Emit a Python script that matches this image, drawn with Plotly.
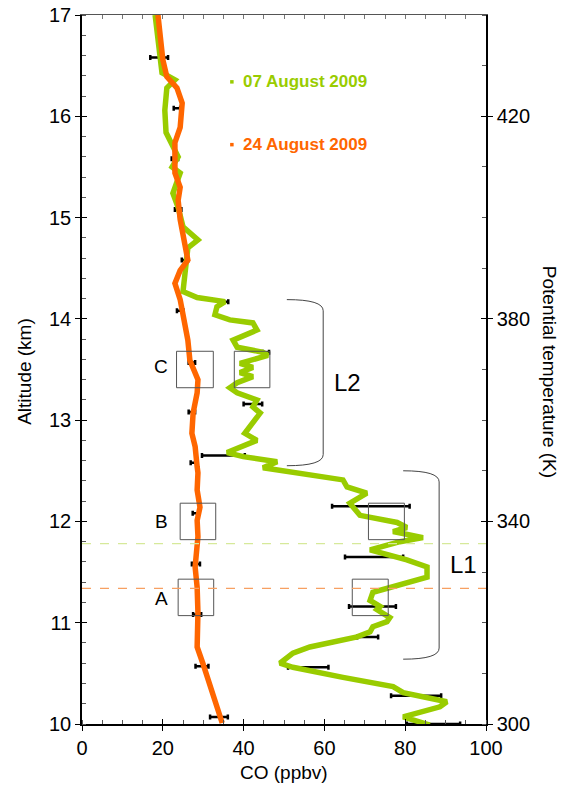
import plotly.graph_objects as go

# CO profiles, 07 August 2009 (green) and 24 August 2009 (orange)
green_alt = [17.0, 16.75, 16.56, 16.43, 16.36, 16.28, 16.06, 15.84, 15.60, 15.50, 15.44, 15.24,
             15.10, 14.91, 14.78, 14.70, 14.45, 14.27, 14.21, 14.17, 14.12, 14.04, 13.99, 13.96,
             13.89, 13.79, 13.72, 13.67, 13.64, 13.56, 13.52, 13.47, 13.43, 13.37, 13.32, 13.27,
             13.20, 13.13, 13.07, 12.87, 12.80, 12.76, 12.68, 12.64, 12.59, 12.53, 12.48, 12.41,
             12.34, 12.28, 12.18, 12.06, 11.99, 11.94, 11.90, 11.84, 11.80, 11.72, 11.62, 11.55,
             11.45, 11.39, 11.30, 11.22, 11.16, 11.13, 11.05, 11.01, 10.96, 10.91, 10.86, 10.76,
             10.70, 10.60, 10.56, 10.46, 10.37, 10.31, 10.22, 10.17, 10.07, 9.99]
green_co = [18.1, 18.8, 19.3, 19.8, 23.0, 21.0, 20.5, 20.8, 23.8, 22.3, 24.3, 22.5,
            23.8, 25.0, 28.7, 26.2, 25.5, 25.0, 28.5, 35.4, 33.4, 32.9, 36.6, 42.3,
            43.3, 37.4, 38.4, 44.8, 46.0, 39.1, 42.3, 39.1, 42.3, 38.4, 36.6, 38.4,
            43.3, 42.3, 44.1, 40.3, 43.3, 40.8, 35.9, 39.9, 48.3, 44.8, 52.2, 64.6,
            65.6, 70.5, 66.3, 68.8, 78.0, 80.4, 77.0, 84.4, 78.7, 71.3, 80.4, 85.4,
            85.4, 80.4, 72.0, 71.3, 73.8, 73.0, 76.2, 75.5, 72.0, 71.3, 68.1, 56.4,
            52.2, 49.0, 52.2, 64.6, 77.0, 79.5, 90.3, 88.6, 79.5, 86.1]

orange_alt = [17.0, 16.82, 16.56, 16.39, 16.28, 16.13, 15.89, 15.74, 15.44, 15.30, 15.17, 14.98,
              14.85, 14.68, 14.58, 14.48, 14.35, 14.19, 13.96, 13.79, 13.59, 13.40, 13.27, 13.07,
              12.87, 12.74, 12.54, 12.48, 12.31, 12.14, 12.01, 11.85, 11.55, 11.35, 11.10, 10.76,
              10.60, 10.37, 10.21, 10.01]
orange_co = [18.8, 19.3, 20.0, 21.0, 23.5, 24.8, 24.3, 23.0, 23.0, 24.3, 23.8, 24.3,
             25.0, 26.0, 26.2, 24.3, 23.0, 24.3, 25.5, 26.2, 26.7, 28.7, 28.5, 27.5,
             27.2, 28.0, 28.5, 28.7, 28.5, 29.2, 28.5, 28.7, 28.0, 28.5, 28.7, 28.5,
             29.9, 31.7, 32.9, 34.7]

# Uncertainty bars
green_err_alt = [14.17, 13.67, 13.16, 12.65, 12.15, 11.65, 11.16, 10.86, 10.56, 10.28, 10.0]
green_err_co = [35.4, 45.5, 42.3, 35.0, 71.5, 72.3, 71.9, 70.7, 56.0, 82.7, 87.0]
green_err_half = [0.8, 0.8, 2.3, 5.3, 9.6, 7.2, 5.8, 2.6, 5.0, 6.2, 6.6]

orange_err_alt = [16.58, 16.08, 15.58, 15.08, 14.58, 14.08, 13.57, 13.08, 12.58, 12.08,
                  11.58, 11.08, 10.57, 10.07]
orange_err_co = [19.1, 23.5, 23.0, 23.8, 25.5, 24.3, 27.2, 27.2, 27.7, 28.2,
                 28.2, 28.5, 29.7, 33.9]
orange_err_half = [2.2, 0.8, 0.8, 0.8, 0.8, 0.8, 0.8, 0.8, 0.8, 0.8,
                   1.0, 1.0, 1.6, 2.2]

# Sampled regions (CO min, CO max, alt min, alt max)
boxes = [(23.4, 32.5, 13.32, 13.68), (37.7, 46.5, 13.32, 13.68),
         (24.3, 33.1, 11.82, 12.18), (70.9, 79.8, 11.82, 12.18),
         (23.8, 32.6, 11.07, 11.43), (66.9, 75.8, 11.07, 11.43)]
box_labels = ["C", "B", "A"]
box_label_alt = [13.53, 12.0, 11.235]

# Tropopause-level markers
tropo_alt_green = 11.78
tropo_alt_orange = 11.34

# Layers (label, CO left end, CO right end, top alt, bottom alt)
layers = [("L2", 50.7, 59.7, 14.19, 12.55), ("L1", 79.5, 88.4, 12.50, 10.64)]

GREEN = "#99cc00"
ORANGE = "#ff6600"
FONT = "Liberation Sans, Arial, sans-serif"

fig = go.Figure()

fig.add_trace(go.Scatter(
    x=green_err_co, y=green_err_alt, mode="markers",
    marker=dict(size=1, color="rgba(0,0,0,0)"),
    error_x=dict(type="data", array=green_err_half, color="black", thickness=2.5, width=2.5),
    hoverinfo="skip"))
fig.add_trace(go.Scatter(
    x=orange_err_co, y=orange_err_alt, mode="markers",
    marker=dict(size=1, color="rgba(0,0,0,0)"),
    error_x=dict(type="data", array=orange_err_half, color="black", thickness=2.5, width=2.5),
    hoverinfo="skip"))

fig.add_trace(go.Scatter(x=green_co, y=green_alt, mode="lines",
                         line=dict(color=GREEN, width=5.5), hoverinfo="skip"))
fig.add_trace(go.Scatter(x=orange_co, y=orange_alt, mode="lines",
                         line=dict(color=ORANGE, width=5.5), hoverinfo="skip"))

# legend entries
legend_text = ["07 August 2009", "24 August 2009"]
legend_col = [GREEN, ORANGE]
legend_alt = [16.34, 15.72]
for t, c, a in zip(legend_text, legend_col, legend_alt):
    fig.add_trace(go.Scatter(x=[37.1], y=[a], mode="markers",
                             marker=dict(symbol="square", size=3.5, color=c),
                             hoverinfo="skip"))
    fig.add_annotation(x=39.4, y=a, xref="x", yref="y", text="<b>%s</b>" % t,
                       showarrow=False, xanchor="left", yanchor="middle",
                       font=dict(family=FONT, size=17, color=c))

# extra axes for tick marks, need a trace each
for xa, ya in [("x2", "y"), ("x3", "y"), ("x", "y2"), ("x", "y3"), ("x", "y4")]:
    fig.add_trace(go.Scatter(x=[], y=[], xaxis=xa, yaxis=ya, hoverinfo="skip"))

shapes = []
for x0, x1, y0, y1 in boxes:
    shapes.append(dict(type="rect", xref="x", yref="y", x0=x0, x1=x1, y0=y0, y1=y1,
                       line=dict(color="#555555", width=1)))
shapes.append(dict(type="line", xref="paper", yref="y", x0=0, x1=1,
                   y0=tropo_alt_green, y1=tropo_alt_green,
                   line=dict(color="#d6e99a", width=1.2, dash="dash")))
shapes.append(dict(type="line", xref="paper", yref="y", x0=0, x1=1,
                   y0=tropo_alt_orange, y1=tropo_alt_orange,
                   line=dict(color="#f7a062", width=1.2, dash="dash")))
for name, xa, xb, yt, yb in layers:
    path = ("M %g,%g Q %g,%g %g,%g L %g,%g Q %g,%g %g,%g" %
            (xa, yt, xb, yt, xb, yt - 0.11, xb, yb + 0.11, xb, yb, xa, yb))
    shapes.append(dict(type="path", xref="x", yref="y", path=path,
                       line=dict(color="#444444", width=1)))
    fig.add_annotation(x=xb + 2.3, y=(yt + yb) / 2, xref="x", yref="y", text=name,
                       showarrow=False, xanchor="left", yanchor="middle",
                       font=dict(family=FONT, size=24, color="black"))

for lab, a in zip(box_labels, box_label_alt):
    fig.add_annotation(x=19.6, y=a, xref="x", yref="y", text=lab, showarrow=False,
                       xanchor="center", yanchor="middle",
                       font=dict(family=FONT, size=19, color="black"))

# axis titles
fig.add_annotation(x=-0.143, y=0.497, xref="paper", yref="paper", text="Altitude (km)",
                   textangle=-90, showarrow=False, xanchor="center", yanchor="middle",
                   font=dict(family=FONT, size=19, color="black"))
fig.add_annotation(x=0.5, y=-0.069, xref="paper", yref="paper", text="CO (ppbv)",
                   showarrow=False, xanchor="center", yanchor="middle",
                   font=dict(family=FONT, size=19, color="black"))
fig.add_annotation(x=1.158, y=0.497, xref="paper", yref="paper",
                   text="Potential temperature (K)", textangle=90, showarrow=False,
                   xanchor="center", yanchor="middle",
                   font=dict(family=FONT, size=19, color="black"))

common = dict(showgrid=False, zeroline=False, automargin=False)
fig.update_layout(
    width=563, height=790, margin=dict(l=82, r=77, t=15, b=66, autoexpand=False),
    plot_bgcolor="white", paper_bgcolor="white", showlegend=False,
    font=dict(family=FONT, size=19, color="black"),
    shapes=shapes,
    xaxis=dict(range=[0, 100], tickvals=[0, 20, 40, 60, 80, 100], ticks="outside",
               ticklen=5, tickwidth=1, tickcolor="black", showline=True,
               linecolor="black", linewidth=1.5,
               minor=dict(dtick=5, ticks="inside", ticklen=4, tickcolor="#555555"),
               tickfont=dict(size=20), **common),
    xaxis2=dict(range=[0, 100], overlaying="x", anchor="y", side="top", dtick=5,
                ticks="inside", ticklen=4, tickcolor="#777777", showticklabels=False,
                showline=True, linecolor="#555555", linewidth=1.2, **common),
    xaxis3=dict(range=[0, 100], overlaying="x", anchor="y", side="bottom",
                tickvals=[0, 20, 40, 60, 80, 100], ticks="inside", ticklen=5,
                tickcolor="black", showticklabels=False, showline=False, **common),
    yaxis=dict(range=[10, 17], dtick=1, ticks="outside", ticklen=5, tickcolor="black",
               showline=True, linecolor="black", linewidth=1.5,
               minor=dict(dtick=0.2, ticks="inside", ticklen=4, tickcolor="#555555"),
               tickfont=dict(size=20), **common),
    yaxis2=dict(range=[300, 440], overlaying="y", anchor="x", side="right",
                tickvals=[300, 340, 380, 420], ticks="outside", ticklen=5,
                tickcolor="black", showline=True, linecolor="black", linewidth=1.5,
                minor=dict(dtick=10, ticks="inside", ticklen=4, tickcolor="#555555"),
                tickfont=dict(size=20), **common),
    yaxis3=dict(range=[10, 17], overlaying="y", anchor="x", side="left", dtick=1,
                ticks="inside", ticklen=5, tickcolor="black", showticklabels=False,
                showline=False, **common),
    yaxis4=dict(range=[300, 440], overlaying="y", anchor="x", side="right",
                tickvals=[300, 340, 380, 420], ticks="inside", ticklen=5,
                tickcolor="black", showticklabels=False, showline=False, **common),
)

fig.write_html("out.html")
